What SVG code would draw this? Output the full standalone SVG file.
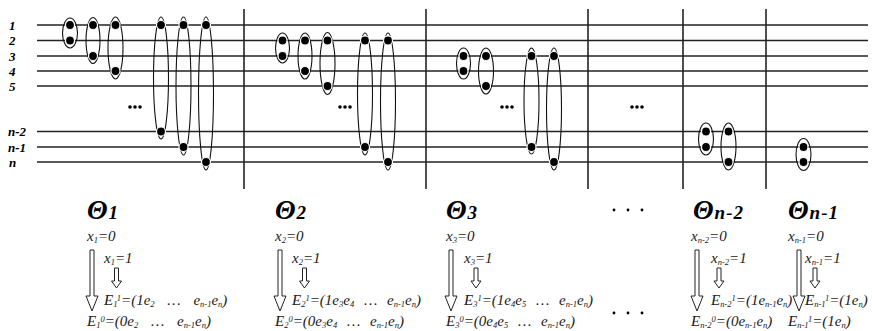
<svg xmlns="http://www.w3.org/2000/svg" width="872" height="331" viewBox="0 0 872 331">
<style>
.hl{stroke:#222;stroke-width:1.4}
.vl{stroke:#222;stroke-width:1.6}
.el{fill:none;stroke:#111;stroke-width:1.1}
.dot{fill:#000;stroke:#fff;stroke-width:1.2}
.lbl{font-family:"Liberation Serif",serif;font-style:italic;font-weight:bold;font-size:13px;fill:#000}
.th{font-family:"Liberation Serif",serif;font-style:italic;font-weight:bold;font-size:27px;letter-spacing:1px;fill:#000}
.ts{font-size:19px}
.t{font-family:"Liberation Serif",serif;font-style:italic;font-size:15px;fill:#1a1a1a}
.s{font-size:8.5px}
.arr{fill:#fff;stroke:#222;stroke-width:1}
</style>
<defs>
<path id="bigArr" class="arr" d="M-2,0 H2 V46 H6 L0,61 L-6,46 H-2 Z"/>
<path id="smArr" class="arr" d="M-2,0 H2 V13 H5 L0,20 L-5,13 H-2 Z"/>
<g id="dots3"><circle cx="-5" cy="0" r="1.8"/><circle cx="0" cy="0" r="1.8"/><circle cx="5" cy="0" r="1.8"/></g>
<g id="dotsWide"><circle cx="-14" cy="0" r="1.4"/><circle cx="0" cy="0" r="1.4"/><circle cx="14" cy="0" r="1.4"/></g>
</defs>
<g id="grid">
<line class="hl" x1="37" y1="25" x2="868" y2="25"/>
<line class="hl" x1="37" y1="40.5" x2="868" y2="40.5"/>
<line class="hl" x1="37" y1="56" x2="868" y2="56"/>
<line class="hl" x1="37" y1="71" x2="868" y2="71"/>
<line class="hl" x1="37" y1="86" x2="868" y2="86"/>
<line class="hl" x1="37" y1="131.5" x2="868" y2="131.5"/>
<line class="hl" x1="37" y1="147" x2="868" y2="147"/>
<line class="hl" x1="37" y1="162" x2="868" y2="162"/>
<line class="vl" x1="244" y1="9" x2="244" y2="189"/>
<line class="vl" x1="426" y1="9" x2="426" y2="189"/>
<line class="vl" x1="588" y1="9" x2="588" y2="189"/>
<line class="vl" x1="683" y1="9" x2="683" y2="189"/>
<line class="vl" x1="766" y1="9" x2="766" y2="189"/>
</g>
<g id="rowlabels">
<text class="lbl" x="9" y="29.5">1</text>
<text class="lbl" x="9" y="45">2</text>
<text class="lbl" x="9" y="60.5">3</text>
<text class="lbl" x="9" y="75.5">4</text>
<text class="lbl" x="9" y="90.5">5</text>
<text class="lbl" x="8" y="136">n-2</text>
<text class="lbl" x="8" y="151.5">n-1</text>
<text class="lbl" x="9" y="166.5">n</text>
</g>
<g id="sec1">
<ellipse class="el" cx="70" cy="33" rx="7.5" ry="15"/>
<circle class="dot" cx="70" cy="25" r="4.5"/><circle class="dot" cx="70" cy="40.5" r="4.5"/>
<ellipse class="el" cx="93" cy="40.5" rx="7" ry="23"/>
<circle class="dot" cx="93" cy="25" r="4.5"/><circle class="dot" cx="93" cy="56" r="4.5"/>
<ellipse class="el" cx="115.5" cy="48" rx="7.5" ry="31"/>
<circle class="dot" cx="115.5" cy="25" r="4.5"/><circle class="dot" cx="115.5" cy="71" r="4.5"/>
<use href="#dots3" x="135" y="107"/>
<ellipse class="el" cx="161" cy="78" rx="7.5" ry="61"/>
<circle class="dot" cx="161" cy="25" r="4.5"/><circle class="dot" cx="161" cy="131.5" r="4.5"/>
<ellipse class="el" cx="183.5" cy="86" rx="7.5" ry="69"/>
<circle class="dot" cx="183.5" cy="25" r="4.5"/><circle class="dot" cx="183.5" cy="147" r="4.5"/>
<ellipse class="el" cx="206" cy="93.5" rx="7.5" ry="76.5"/>
<circle class="dot" cx="206" cy="25" r="4.5"/><circle class="dot" cx="206" cy="162" r="4.5"/>
</g>
<g id="sec2">
<ellipse class="el" cx="282.5" cy="48" rx="7" ry="15"/>
<circle class="dot" cx="282.5" cy="40.5" r="4.5"/><circle class="dot" cx="282.5" cy="56" r="4.5"/>
<ellipse class="el" cx="305" cy="56" rx="7" ry="23"/>
<circle class="dot" cx="305" cy="40.5" r="4.5"/><circle class="dot" cx="305" cy="71" r="4.5"/>
<ellipse class="el" cx="327.5" cy="63.5" rx="7.5" ry="31"/>
<circle class="dot" cx="327.5" cy="40.5" r="4.5"/><circle class="dot" cx="327.5" cy="86" r="4.5"/>
<use href="#dots3" x="345" y="107"/>
<ellipse class="el" cx="365" cy="94" rx="7.5" ry="61"/>
<circle class="dot" cx="365" cy="40.5" r="4.5"/><circle class="dot" cx="365" cy="147" r="4.5"/>
<ellipse class="el" cx="388" cy="101.5" rx="7.5" ry="68.5"/>
<circle class="dot" cx="388" cy="40.5" r="4.5"/><circle class="dot" cx="388" cy="162" r="4.5"/>
</g>
<g id="sec3">
<ellipse class="el" cx="463.5" cy="63.5" rx="7" ry="15.5"/>
<circle class="dot" cx="463.5" cy="56" r="4.5"/><circle class="dot" cx="463.5" cy="71" r="4.5"/>
<ellipse class="el" cx="486" cy="71" rx="7.5" ry="23"/>
<circle class="dot" cx="486" cy="56" r="4.5"/><circle class="dot" cx="486" cy="86" r="4.5"/>
<use href="#dots3" x="507" y="107"/>
<ellipse class="el" cx="531.5" cy="101" rx="7.5" ry="53"/>
<circle class="dot" cx="531.5" cy="56" r="4.5"/><circle class="dot" cx="531.5" cy="147" r="4.5"/>
<ellipse class="el" cx="554" cy="109" rx="7.5" ry="61"/>
<circle class="dot" cx="554" cy="56" r="4.5"/><circle class="dot" cx="554" cy="162" r="4.5"/>
</g>
<g id="sec4">
<use href="#dots3" x="637" y="107"/>
</g>
<g id="sec5">
<ellipse class="el" cx="706" cy="139" rx="7.5" ry="16"/>
<circle class="dot" cx="706" cy="131.5" r="4.5"/><circle class="dot" cx="706" cy="147" r="4.5"/>
<ellipse class="el" cx="728.5" cy="146.5" rx="7.5" ry="23.5"/>
<circle class="dot" cx="728.5" cy="131.5" r="4.5"/><circle class="dot" cx="728.5" cy="162" r="4.5"/>
</g>
<g id="sec6">
<ellipse class="el" cx="803.5" cy="154.5" rx="7.5" ry="16"/>
<circle class="dot" cx="803.5" cy="147" r="4.5"/><circle class="dot" cx="803.5" cy="162" r="4.5"/>
</g>
<g id="theta1">
<text class="th" x="87" y="219">Θ<tspan class="ts">1</tspan></text>
<text class="t" x="87" y="241">x<tspan class="s" dy="2">1</tspan><tspan dy="-2">=0</tspan></text>
<use href="#bigArr" x="92" y="250"/>
<text class="t" x="104" y="263">x<tspan class="s" dy="2">1</tspan><tspan dy="-2">=1</tspan></text>
<use href="#smArr" x="116.5" y="268"/>
<text class="t" x="104" y="305">E<tspan class="s" dy="2">1</tspan><tspan class="s" dy="-6">1</tspan><tspan dy="4">=(1e</tspan><tspan class="s" dy="2">2</tspan><tspan dy="-2" dx="9"> … </tspan><tspan dx="9">e</tspan><tspan class="s" dy="2">n-1</tspan><tspan dy="-2">e</tspan><tspan class="s" dy="2">n</tspan><tspan dy="-2">)</tspan></text>
<text class="t" x="87" y="326">E<tspan class="s" dy="2">1</tspan><tspan class="s" dy="-6">0</tspan><tspan dy="4">=(0e</tspan><tspan class="s" dy="2">2</tspan><tspan dy="-2" dx="9"> … </tspan><tspan dx="9">e</tspan><tspan class="s" dy="2">n-1</tspan><tspan dy="-2">e</tspan><tspan class="s" dy="2">n</tspan><tspan dy="-2">)</tspan></text>
</g>
<g id="theta2">
<text class="th" x="275" y="219">Θ<tspan class="ts">2</tspan></text>
<text class="t" x="275" y="241">x<tspan class="s" dy="2">2</tspan><tspan dy="-2">=0</tspan></text>
<use href="#bigArr" x="280" y="250"/>
<text class="t" x="292" y="263">x<tspan class="s" dy="2">2</tspan><tspan dy="-2">=1</tspan></text>
<use href="#smArr" x="304.5" y="268"/>
<text class="t" x="292" y="305">E<tspan class="s" dy="2">2</tspan><tspan class="s" dy="-6">1</tspan><tspan dy="4">=(1e</tspan><tspan class="s" dy="2">3</tspan><tspan dy="-2">e</tspan><tspan class="s" dy="2">4</tspan><tspan dy="-2" dx="6"> … </tspan><tspan dx="6">e</tspan><tspan class="s" dy="2">n-1</tspan><tspan dy="-2">e</tspan><tspan class="s" dy="2">n</tspan><tspan dy="-2">)</tspan></text>
<text class="t" x="275" y="326">E<tspan class="s" dy="2">2</tspan><tspan class="s" dy="-6">0</tspan><tspan dy="4">=(0e</tspan><tspan class="s" dy="2">3</tspan><tspan dy="-2">e</tspan><tspan class="s" dy="2">4</tspan><tspan dy="-2" dx="6"> … </tspan><tspan dx="6">e</tspan><tspan class="s" dy="2">n-1</tspan><tspan dy="-2">e</tspan><tspan class="s" dy="2">n</tspan><tspan dy="-2">)</tspan></text>
</g>
<g id="theta3">
<text class="th" x="446" y="219">Θ<tspan class="ts">3</tspan></text>
<text class="t" x="446" y="241">x<tspan class="s" dy="2">3</tspan><tspan dy="-2">=0</tspan></text>
<use href="#bigArr" x="451" y="250"/>
<text class="t" x="464" y="263">x<tspan class="s" dy="2">3</tspan><tspan dy="-2">=1</tspan></text>
<use href="#smArr" x="476" y="268"/>
<text class="t" x="464" y="305">E<tspan class="s" dy="2">3</tspan><tspan class="s" dy="-6">1</tspan><tspan dy="4">=(1e</tspan><tspan class="s" dy="2">4</tspan><tspan dy="-2">e</tspan><tspan class="s" dy="2">5</tspan><tspan dy="-2" dx="6"> … </tspan><tspan dx="6">e</tspan><tspan class="s" dy="2">n-1</tspan><tspan dy="-2">e</tspan><tspan class="s" dy="2">n</tspan><tspan dy="-2">)</tspan></text>
<text class="t" x="446" y="326">E<tspan class="s" dy="2">3</tspan><tspan class="s" dy="-6">0</tspan><tspan dy="4">=(0e</tspan><tspan class="s" dy="2">4</tspan><tspan dy="-2">e</tspan><tspan class="s" dy="2">5</tspan><tspan dy="-2" dx="6"> … </tspan><tspan dx="6">e</tspan><tspan class="s" dy="2">n-1</tspan><tspan dy="-2">e</tspan><tspan class="s" dy="2">n</tspan><tspan dy="-2">)</tspan></text>
</g>
<g id="ellipsis">
<use href="#dotsWide" x="628" y="210"/>
<use href="#dotsWide" x="628" y="313"/>
</g>
<g id="thetaN2">
<text class="th" x="693" y="219">Θ<tspan class="ts">n-2</tspan></text>
<text class="t" x="691" y="241">x<tspan class="s" dy="2">n-2</tspan><tspan dy="-2">=0</tspan></text>
<use href="#bigArr" x="697" y="250"/>
<text class="t" x="711" y="263">x<tspan class="s" dy="2">n-2</tspan><tspan dy="-2">=1</tspan></text>
<use href="#smArr" x="719" y="268"/>
<text class="t" x="711" y="305">E<tspan class="s" dy="2">n-2</tspan><tspan class="s" dy="-6">1</tspan><tspan dy="4">=(1e</tspan><tspan class="s" dy="2">n-1</tspan><tspan dy="-2">e</tspan><tspan class="s" dy="2">n</tspan><tspan dy="-2">)</tspan></text>
<text class="t" x="691" y="326">E<tspan class="s" dy="2">n-2</tspan><tspan class="s" dy="-6">0</tspan><tspan dy="4">=(0e</tspan><tspan class="s" dy="2">n-1</tspan><tspan dy="-2">e</tspan><tspan class="s" dy="2">n</tspan><tspan dy="-2">)</tspan></text>
</g>
<g id="thetaN1">
<text class="th" x="788" y="219">Θ<tspan class="ts">n-1</tspan></text>
<text class="t" x="788" y="241">x<tspan class="s" dy="2">n-1</tspan><tspan dy="-2">=0</tspan></text>
<use href="#bigArr" x="799" y="250"/>
<text class="t" x="805" y="263">x<tspan class="s" dy="2">n-1</tspan><tspan dy="-2">=1</tspan></text>
<use href="#smArr" x="815" y="268"/>
<text class="t" x="805" y="305">E<tspan class="s" dy="2">n-1</tspan><tspan class="s" dy="-6">1</tspan><tspan dy="4">=(1e</tspan><tspan class="s" dy="2">n</tspan><tspan dy="-2">)</tspan></text>
<text class="t" x="788" y="326">E<tspan class="s" dy="2">n-1</tspan><tspan class="s" dy="-6">1</tspan><tspan dy="4">=(1e</tspan><tspan class="s" dy="2">n</tspan><tspan dy="-2">)</tspan></text>
</g>
</svg>
